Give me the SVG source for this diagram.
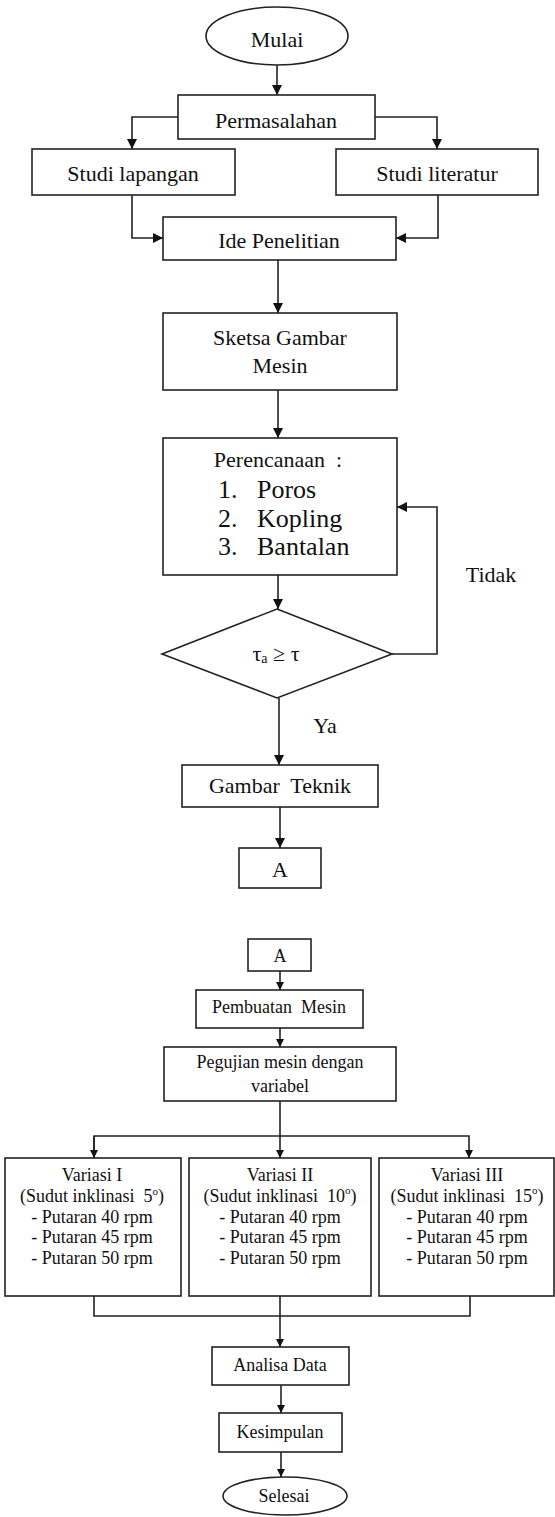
<svg xmlns="http://www.w3.org/2000/svg" width="555" height="1517" viewBox="0 0 555 1517">
<style>
.n{fill:#fff;stroke:#222;stroke-width:1.6}
.c{fill:none;stroke:#222;stroke-width:1.6}
text{font-family:"Liberation Serif","Times New Roman",serif;fill:#111;text-anchor:middle}
.t1{font-size:22px}
.t2{font-size:26px}
.t3{font-size:18px}
.l{text-anchor:start}
</style>
<defs>
<marker id="a" viewBox="0 0 10 10" refX="10" refY="5" markerWidth="10" markerHeight="10" markerUnits="userSpaceOnUse" orient="auto">
<path d="M0,0 L10,5 L0,10 Z" fill="#111"/>
</marker>
<marker id="b" viewBox="0 0 10 10" refX="10" refY="5" markerWidth="8" markerHeight="8" markerUnits="userSpaceOnUse" orient="auto">
<path d="M0,0 L10,5 L0,10 Z" fill="#111"/>
</marker>
</defs>
<g id="connectors">
<path class="c" d="M277,65 V95" marker-end="url(#a)"/>
<path class="c" d="M178,117 H132 V149" marker-end="url(#a)"/>
<path class="c" d="M375,117 H437 V149" marker-end="url(#a)"/>
<path class="c" d="M132,195 V238 H163" marker-end="url(#a)"/>
<path class="c" d="M438,195 V238 H396" marker-end="url(#a)"/>
<path class="c" d="M278,260 V313" marker-end="url(#a)"/>
<path class="c" d="M278,390 V438" marker-end="url(#a)"/>
<path class="c" d="M278,575 V609" marker-end="url(#a)"/>
<path class="c" d="M392,654 H437 V507 H397" marker-end="url(#a)"/>
<path class="c" d="M279,698 V765" marker-end="url(#a)"/>
<path class="c" d="M280,807 V848" marker-end="url(#a)"/>
<path class="c" d="M280,971 V990" marker-end="url(#b)"/>
<path class="c" d="M280,1028 V1047" marker-end="url(#b)"/>
<path class="c" d="M280,1101 V1158" marker-end="url(#b)"/>
<path class="c" d="M94,1158 V1136 H469 V1158" marker-end="url(#b)"/>
<path class="c" d="M94,1136 V1158" marker-end="url(#b)"/>
<path class="c" d="M94,1296 V1316 H470 V1296"/>
<path class="c" d="M280,1296 V1347" marker-end="url(#b)"/>
<path class="c" d="M281,1385 V1413" marker-end="url(#b)"/>
<path class="c" d="M281,1452 V1477" marker-end="url(#b)"/>
</g>
<g id="mulai"><ellipse class="n" cx="277" cy="36" rx="71" ry="29"/><text class="t1" x="277" y="47">Mulai</text></g>
<g id="permasalahan"><rect class="n" x="178" y="95" width="197" height="44"/><text class="t1" x="276" y="128">Permasalahan</text></g>
<g id="studi-lapangan"><rect class="n" x="32" y="149" width="203" height="46"/><text class="t1" x="133" y="181">Studi lapangan</text></g>
<g id="studi-literatur"><rect class="n" x="336" y="149" width="202" height="46"/><text class="t1" x="437" y="181">Studi literatur</text></g>
<g id="ide"><rect class="n" x="163" y="217" width="233" height="43"/><text class="t1" x="279" y="248">Ide Penelitian</text></g>
<g id="sketsa"><rect class="n" x="163" y="313" width="234" height="77"/><text class="t1" x="280" y="345">Sketsa Gambar</text><text class="t1" x="280" y="373">Mesin</text></g>
<g id="perencanaan"><rect class="n" x="163" y="438" width="234" height="137"/>
<text class="t1" x="278" y="467" xml:space="preserve">Perencanaan  :</text>
<text class="t2 l" x="218" y="498">1.</text><text class="t2 l" x="257" y="498">Poros</text>
<text class="t2 l" x="218" y="527">2.</text><text class="t2 l" x="257" y="527">Kopling</text>
<text class="t2 l" x="218" y="555">3.</text><text class="t2 l" x="257" y="555">Bantalan</text></g>
<g id="keputusan"><path class="n" d="M277,609 L392,654 L277,698 L162,654 Z"/><text class="t1" x="276" y="661">τ<tspan font-size="14" dy="2">a</tspan><tspan dy="-2"> ≥ τ</tspan></text></g>
<g id="label-tidak"><text class="t1" x="491" y="582">Tidak</text></g>
<g id="label-ya"><text class="t1" x="325" y="733">Ya</text></g>
<g id="gambar-teknik"><rect class="n" x="182" y="765" width="196" height="42"/><text class="t1" x="280" y="793" xml:space="preserve">Gambar  Teknik</text></g>
<g id="a1"><rect class="n" x="239" y="848" width="82" height="40"/><text class="t1" x="280" y="877">A</text></g>
<g id="a2"><rect class="n" x="248" y="939" width="63" height="32"/><text class="t3" x="280" y="962">A</text></g>
<g id="pembuatan"><rect class="n" x="196" y="990" width="167" height="38"/><text class="t3" x="279" y="1013" xml:space="preserve">Pembuatan  Mesin</text></g>
<g id="pegujian"><rect class="n" x="164" y="1047" width="232" height="54"/><text class="t3" x="280" y="1068">Pegujian mesin dengan</text><text class="t3" x="280" y="1092">variabel</text></g>
<g id="variasi1"><rect class="n" x="5" y="1158" width="176" height="138"/>
<text class="t3" x="92" y="1181">Variasi I</text>
<text class="t3" x="92" y="1202" xml:space="preserve">(Sudut inklinasi  5<tspan font-size="11" dy="-7">o</tspan><tspan dy="7">)</tspan></text>
<text class="t3" x="92" y="1223">- Putaran 40 rpm</text>
<text class="t3" x="92" y="1243">- Putaran 45 rpm</text>
<text class="t3" x="92" y="1264">- Putaran 50 rpm</text></g>
<g id="variasi2"><rect class="n" x="189" y="1158" width="182" height="138"/>
<text class="t3" x="280" y="1181">Variasi II</text>
<text class="t3" x="280" y="1202" xml:space="preserve">(Sudut inklinasi  10<tspan font-size="11" dy="-8">o</tspan><tspan dy="8">)</tspan></text>
<text class="t3" x="280" y="1223">- Putaran 40 rpm</text>
<text class="t3" x="280" y="1243">- Putaran 45 rpm</text>
<text class="t3" x="280" y="1264">- Putaran 50 rpm</text></g>
<g id="variasi3"><rect class="n" x="379" y="1158" width="175" height="138"/>
<text class="t3" x="467" y="1181">Variasi III</text>
<text class="t3" x="467" y="1202" xml:space="preserve">(Sudut inklinasi  15<tspan font-size="11" dy="-8">o</tspan><tspan dy="8">)</tspan></text>
<text class="t3" x="467" y="1223">- Putaran 40 rpm</text>
<text class="t3" x="467" y="1243">- Putaran 45 rpm</text>
<text class="t3" x="467" y="1264">- Putaran 50 rpm</text></g>
<g id="analisa"><rect class="n" x="212" y="1347" width="137" height="38"/><text class="t3" x="280" y="1371">Analisa Data</text></g>
<g id="kesimpulan"><rect class="n" x="219" y="1413" width="123" height="39"/><text class="t3" x="280" y="1438">Kesimpulan</text></g>
<g id="selesai"><ellipse class="n" cx="285" cy="1496" rx="62" ry="19"/><text class="t3" x="284" y="1502">Selesai</text></g>
</svg>
